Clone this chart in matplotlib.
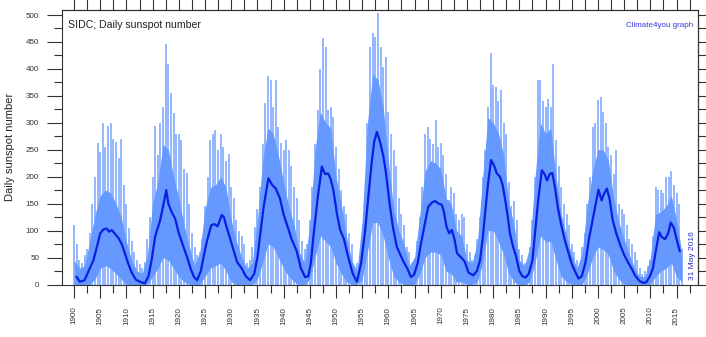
import numpy as np
import matplotlib
matplotlib.use("Agg")
import matplotlib.pyplot as plt
from matplotlib.ticker import MultipleLocator

plt.rcParams['font.family'] = ['Liberation Sans', 'DejaVu Sans']

# ---------------- data ----------------
# half-year grid: tallest daily spikes in each half year
spike_years = np.arange(1900.0, 2016.01, 0.5)
daily_high = [
    110, 75, 45, 40, 55, 65, 95, 150, 200, 262,
    245, 300, 255, 295, 300, 270, 265, 235, 270, 185,
    150, 105, 80, 60, 45, 38, 30, 42, 85, 126,
    200, 295, 240, 300, 330, 447, 410, 355, 318, 280,
    280, 268, 215, 206, 150, 95, 70, 55, 60, 85,
    145, 200, 268, 280, 287, 250, 280, 256, 230, 243,
    180, 160, 120, 100, 90, 75, 40, 45, 70, 107,
    140, 181, 260, 336, 386, 380, 330, 380, 293, 262,
    250, 268, 250, 220, 181, 160, 120, 80, 65, 75,
    120, 181, 260, 324, 400, 457, 441, 324, 330, 311,
    255, 215, 175, 145, 130, 95, 75, 33, 40, 35,
    90, 145, 300, 441, 466, 460, 503, 440, 404, 423,
    320, 280, 250, 220, 160, 130, 110, 70, 60, 40,
    50, 80, 125, 180, 280, 293, 270, 260, 305, 255,
    262, 240, 205, 157, 180, 170, 130, 120, 130, 125,
    75, 60, 45, 55, 85, 125, 200, 250, 330, 429,
    370, 367, 340, 361, 300, 280, 190, 145, 155, 120,
    65, 55, 40, 40, 70, 120, 200, 380, 380, 340,
    330, 345, 330, 410, 268, 220, 180, 150, 130, 110,
    75, 60, 45, 40, 70, 95, 150, 200, 293, 300,
    342, 348, 320, 300, 256, 240, 205, 250, 150, 140,
    130, 110, 85, 75, 60, 45, 30, 20, 25, 35,
    45, 90, 181, 175, 175, 170, 200, 200, 210, 185,
    169, 150, 65,
]

# yearly grid: top and bottom of the dense part of the daily band
band_years = np.arange(1900, 2017)
daily_core = [
    45, 30, 35, 80, 130, 165, 175, 170, 150, 125,
    80, 45, 25, 20, 55, 150, 190, 260, 250, 200,
    160, 110, 70, 35, 60, 140, 180, 185, 200, 180,
    120, 80, 50, 30, 40, 120, 230, 290, 280, 240,
    190, 145, 110, 60, 40, 110, 250, 320, 300, 290,
    200, 150, 90, 45, 25, 120, 300, 390, 380, 330,
    230, 140, 100, 75, 35, 50, 130, 210, 230, 225,
    215, 160, 150, 100, 90, 45, 40, 80, 200, 310,
    300, 280, 240, 150, 110, 45, 35, 70, 200, 300,
    280, 290, 200, 130, 90, 55, 30, 60, 150, 210,
    250, 250, 230, 160, 115, 85, 55, 30, 15, 15,
    50, 130, 135, 145, 165, 120, 60,
]
daily_low = [
    0, 0, 0, 0, 10, 30, 35, 30, 20, 10,
    0, 0, 0, 0, 0, 15, 30, 50, 45, 30,
    15, 5, 0, 0, 0, 15, 30, 35, 40, 25,
    5, 0, 0, 0, 0, 10, 40, 75, 70, 50,
    30, 15, 5, 0, 0, 10, 50, 90, 80, 70,
    40, 20, 5, 0, 0, 10, 60, 115, 115, 90,
    50, 15, 5, 0, 0, 0, 20, 50, 60, 60,
    55, 25, 20, 5, 5, 0, 0, 5, 40, 100,
    100, 80, 55, 20, 5, 0, 0, 5, 40, 90,
    80, 80, 45, 15, 5, 0, 0, 0, 20, 50,
    70, 65, 55, 25, 10, 0, 0, 0, 0, 0,
    0, 15, 25, 30, 40, 15, 5,
]

# running mean (dark blue curve), key points
mean_years = [
    1900.5, 1901.1, 1902.0, 1903.0, 1903.7, 1904.5, 1905.0, 1905.6, 1906.2, 1906.7,
    1907.2, 1907.8, 1908.5, 1909.1, 1909.7, 1910.3, 1911.0, 1911.8, 1912.6, 1913.5,
    1914.2, 1914.8, 1915.5, 1916.4, 1917.0, 1917.6, 1918.0, 1918.6, 1919.3, 1920.0,
    1920.9, 1921.6, 1922.3, 1922.9, 1923.5, 1924.2, 1924.8, 1925.4, 1926.2, 1926.8,
    1927.4, 1928.2, 1928.6, 1929.1, 1929.8, 1930.4, 1931.1, 1932.0, 1932.8, 1933.6,
    1934.4, 1935.0, 1935.5, 1936.2, 1937.1, 1937.8, 1938.5, 1939.3, 1940.0, 1940.6,
    1941.5, 1942.5, 1943.3, 1944.1, 1944.7, 1945.2, 1945.7, 1946.5, 1947.3, 1947.9,
    1948.5, 1949.0, 1949.5, 1950.2, 1950.8, 1951.5, 1952.3, 1953.2, 1954.0, 1954.8,
    1955.5, 1956.2, 1956.8, 1957.3, 1957.8, 1958.4, 1959.0, 1959.5, 1960.3, 1960.9,
    1961.6, 1962.3, 1962.9, 1963.6, 1964.3, 1964.9, 1965.6, 1966.2, 1967.0, 1967.6,
    1968.3, 1968.9, 1969.6, 1970.2, 1970.6, 1971.1, 1971.6, 1972.1, 1972.6, 1973.1,
    1974.0, 1974.6, 1975.3, 1976.2, 1976.9, 1977.5, 1978.0, 1978.4, 1979.0, 1979.6,
    1980.2, 1980.7, 1981.3, 1981.8, 1982.3, 1982.8, 1983.2, 1983.8, 1984.3, 1985.0,
    1985.6, 1986.2, 1986.8, 1987.5, 1988.0, 1988.6, 1989.3, 1989.8, 1990.3, 1990.8,
    1991.3, 1991.8, 1992.4, 1992.9, 1993.6, 1994.2, 1995.0, 1995.6, 1996.3, 1996.9,
    1997.6, 1998.3, 1999.0, 1999.6, 2000.1, 2000.7, 2001.0, 2001.7, 2002.2, 2002.8,
    2003.5, 2004.3, 2005.0, 2005.7, 2006.4, 2007.2, 2008.0, 2008.7, 2009.2, 2009.9,
    2010.5, 2011.0, 2011.7, 2012.2, 2012.8, 2013.4, 2013.9, 2014.5, 2015.0, 2015.6,
]
mean_values = [
    14, 5, 8, 30, 45, 75, 95, 102, 104, 98,
    101, 94, 86, 75, 58, 40, 22, 9, 5, 2,
    15, 45, 90, 118, 145, 175, 150, 135, 122, 95,
    70, 50, 28, 14, 8, 25, 55, 82, 110, 112,
    108, 129, 125, 107, 85, 65, 42, 30, 15, 8,
    20, 50, 90, 145, 197, 185, 178, 160, 130, 112,
    85, 62, 30, 14, 15, 40, 90, 160, 219, 205,
    206, 195, 175, 130, 101, 85, 52, 20, 5, 40,
    95, 165, 225, 265, 283, 265, 240, 210, 145, 105,
    70, 55, 42, 30, 14, 18, 40, 75, 115, 144,
    152, 155, 150, 148, 135, 107, 95, 101, 85, 58,
    49, 42, 22, 17, 25, 45, 85, 126, 185, 231,
    220, 206, 200, 185, 157, 125, 95, 70, 55, 25,
    15, 13, 20, 45, 95, 157, 212, 205, 193, 205,
    207, 180, 140, 115, 85, 65, 38, 25, 11, 15,
    40, 85, 120, 150, 176, 156, 165, 178, 160, 120,
    95, 72, 55, 42, 30, 15, 6, 3, 4, 15,
    30, 60, 97, 88, 84, 95, 115, 105, 85, 62,
]

x_tick_years = list(range(1900, 2016, 5))
y_tick_values = list(range(0, 501, 50))

title_text = "SIDC; Daily sunspot number"
credit_text = "Climate4you graph"
date_text = "31 May 2016"
ylabel_text = "Daily sunspot number"

# ---------------- figure ----------------
W, H = 706, 337
fig = plt.figure(figsize=(W / 100, H / 100), dpi=100)
ax = fig.add_axes([62 / W, 1 - 284.5 / H, (698 - 62) / W, (284.5 - 10) / H])

light = '#6699ff'
spike_col = '#82aaff'
dark = '#0a1fe0'

ax.vlines(spike_years, 0, daily_high, color=spike_col, lw=1.2, zorder=1)
ax.fill_between(band_years, daily_low, daily_core, color=light, lw=0, zorder=2)
ax.plot(mean_years, mean_values, color=dark, lw=1.6, zorder=3)

ax.set_xlim(1897.7, 2019.1)
ax.set_ylim(0, 509.3)

ax.set_xticks(x_tick_years)
ax.set_xticklabels([str(y) for y in x_tick_years], rotation=90, fontsize=5.8, color='#333333')
ax.xaxis.set_minor_locator(MultipleLocator(2.5))
ax.set_yticks(y_tick_values)
ax.set_yticklabels([str(v) for v in y_tick_values], fontsize=5.8, color='#333333')
ax.yaxis.set_minor_locator(MultipleLocator(25))

ax.tick_params(axis='x', which='major', direction='out', length=9, width=0.8, pad=7, colors='#333333')
ax.tick_params(axis='x', which='minor', direction='out', length=6, width=0.8, colors='#333333')
ax.tick_params(axis='y', which='major', direction='out', length=10.5, width=0.8, pad=6, colors='#333333')
ax.tick_params(axis='y', which='minor', direction='out', length=5.5, width=0.8, colors='#333333')

for s in ax.spines.values():
    s.set_linewidth(0.8)
    s.set_color('#333333')

# top and right secondary ticks (no labels)
axt = ax.secondary_xaxis('top')
axt.set_xticks(np.arange(1900, 2019, 2.5))
axt.tick_params(direction='out', length=8, width=0.8, labeltop=False, colors='#333333')
axr = ax.secondary_yaxis('right')
axr.set_yticks(np.arange(0, 510, 25))
axr.tick_params(direction='out', length=6, width=0.8, labelright=False, colors='#333333')

ax.text(0.009, 0.965, title_text, transform=ax.transAxes, ha='left', va='top',
        fontsize=7.6, color='#222222')
ax.text(0.992, 0.955, credit_text, transform=ax.transAxes, ha='right', va='top',
        fontsize=5.8, color='#3a3ae0')
ax.text(693 / W, 1 - 280 / H, date_text, transform=fig.transFigure, rotation=90,
        ha='center', va='bottom', fontsize=6, color='#2e2ec8')
fig.text(10 / W, 1 - 147 / H, ylabel_text, rotation=90, ha='center', va='center',
         fontsize=8, color='#222222')

fig.savefig('out.png', dpi=100)
